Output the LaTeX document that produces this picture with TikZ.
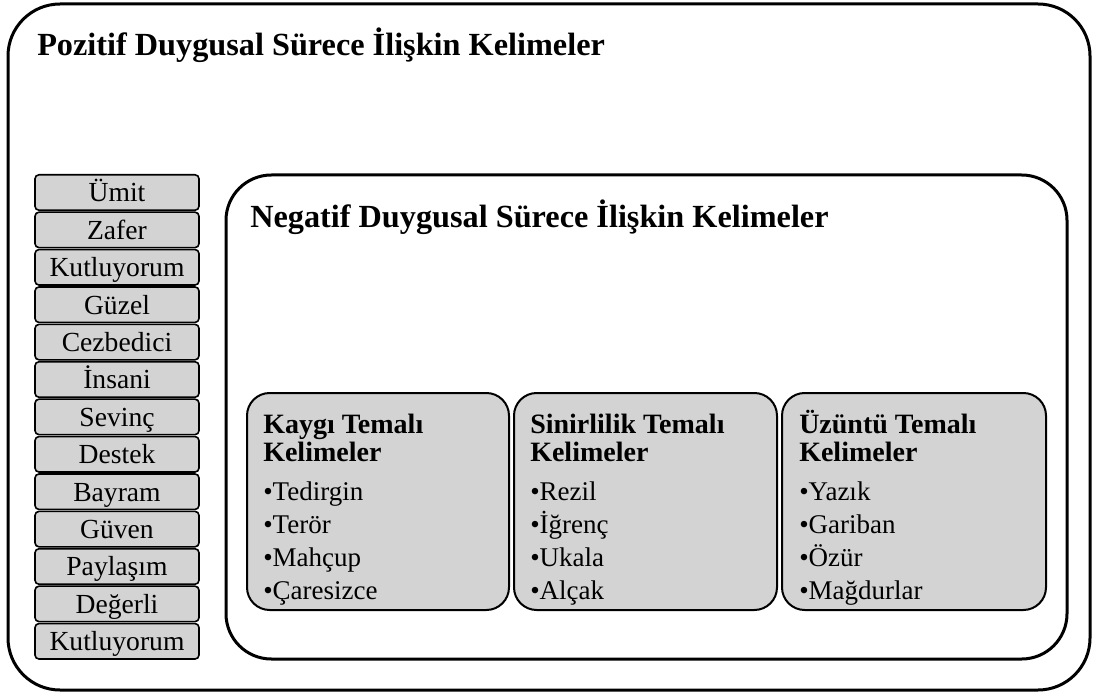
\documentclass[tikz,border=0pt]{standalone}
\usepackage{fontspec}
\setmainfont{Liberation Serif}
\definecolor{boxGray}{RGB}{211,211,211}

\begin{document}
\begin{tikzpicture}
        [x=0.75pt, y=-0.75pt,
        frame/.style={draw, rounded corners=39pt, line width=2.25pt, minimum width=811.5pt, minimum height=514.5pt},
        innerFrame/.style={draw, rounded corners=34pt, line width=2.25pt, minimum width=630.75pt, minimum height=363pt},
        groupBox/.style={draw, fill=boxGray, rounded corners=17pt, line width=1.5pt, minimum height=162.75pt},
        wordBox/.style={draw, fill=boxGray, rounded corners=3pt, line width=1.2pt, minimum width=123pt, minimum height=26.6pt, inner sep=0pt, text height=15.5pt, text depth=1.3pt, font=\fontsize{20.7}{24}\selectfont},
        title/.style={anchor=base west, inner sep=0pt, font=\fontsize{24.2}{29}\selectfont\bfseries},
        head/.style={anchor=base west, inner sep=0pt, font=\fontsize{21}{25}\selectfont\bfseries},
        item/.style={anchor=base west, inner sep=0pt, font=\fontsize{20.25}{24}\selectfont}]
        \useasboundingbox (0,0) rectangle (1095,695);
        
        \node[frame] (pozitif) at (549,347) {};
        \node[title] (pozitifT) at (37,56) {Pozitif Duygusal Sürece İlişkin Kelimeler};
        
        \foreach \w [count=\i] in {Ümit,Zafer,Kutluyorum,Güzel,Cezbedici,İnsani,Sevinç,Destek,Bayram,Güven,Paylaşım,Değerli,Kutluyorum}
            \node[wordBox] (w\i) at (117,155.1+37.4*\i) {\w};
        
        \node[innerFrame] (negatif) at (646.5,417) {};
        \node[title] (negatifT) at (250,228) {Negatif Duygusal Sürece İlişkin Kelimeler};
        
        \node[groupBox, minimum width=196.5pt] (kaygi) at (378,501.5) {};
        \node[groupBox, minimum width=197.25pt] (sinir) at (645.5,501.5) {};
        \node[groupBox, minimum width=198pt] (uzuntu) at (914,501.5) {};
        
        % kaygi
        \node[head] (kaygiH) at (263,433) {Kaygı Temalı};
        \node[head] (kaygiK) at (263,461) {Kelimeler};
        \foreach \w [count=\i] in {Tedirgin,Terör,Mahçup,Çaresizce}
            \node[item] (k\i) at (263,467+33*\i) {•\w};
        
        % sinirlilik
        \node[head] (sinirH) at (530,433) {Sinirlilik Temalı};
        \node[head] (sinirK) at (530,461) {Kelimeler};
        \foreach \w [count=\i] in {Rezil,İğrenç,Ukala,Alçak}
            \node[item] (s\i) at (530,467+33*\i) {•\w};
        
        % uzuntu
        \node[head] (uzuntuH) at (799,433) {Üzüntü Temalı};
        \node[head] (uzuntuK) at (799,461) {Kelimeler};
        \foreach \w [count=\i] in {Yazık,Gariban,Özür,Mağdurlar}
            \node[item] (u\i) at (799,467+33*\i) {•\w};
    
    \end{tikzpicture}
\end{document}
